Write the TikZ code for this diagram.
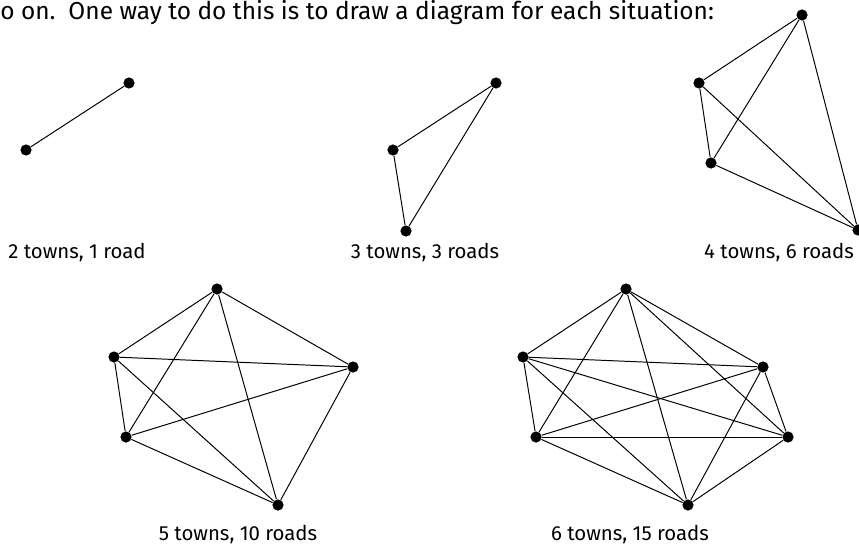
\documentclass[tikz,border=0pt]{standalone}
\usepackage{fontspec}
\setmainfont{Fira Sans}
\usepackage{tikz}
\usetikzlibrary{positioning}

\begin{document}
\begin{tikzpicture}[
  x=0.025cm, y=-0.025cm,
  town/.style={circle,fill=black,inner sep=0pt,minimum size=0.28cm},
  road/.style={line width=0.7pt,draw=black},
  caption/.style={font=\fontsize{14.5}{17}\selectfont}
]
  \useasboundingbox (0,0) rectangle (859,545);

  % lead-in text
  \node[anchor=base west,inner sep=0pt,font=\fontsize{17.4}{20}\selectfont] (intro) at (0,20)
    {o on.\ \ One way to do this is to draw a diagram for each situation:};

  % 2 towns
  \node[town] (a1) at (129,83) {};
  \node[town] (a2) at (26,150) {};
  \draw[road] (a1) -- (a2);
  \node[caption,anchor=base] (capa) at (77,258) {2 towns, 1 road};

  % 3 towns
  \node[town] (b1) at (496,83) {};
  \node[town] (b2) at (393,150) {};
  \node[town] (b3) at (406,231) {};
  \draw[road] (b1) -- (b2);
  \draw[road] (b1) -- (b3);
  \draw[road] (b2) -- (b3);
  \node[caption,anchor=base] (capb) at (425,258) {3 towns, 3 roads};

  % 4 towns
  \node[town] (c1) at (802,15) {};
  \node[town] (c2) at (699,83) {};
  \node[town] (c3) at (711,163) {};
  \node[town] (c4) at (858,230) {};
  \draw[road] (c1) -- (c2);
  \draw[road] (c1) -- (c3);
  \draw[road] (c1) -- (c4);
  \draw[road] (c2) -- (c3);
  \draw[road] (c2) -- (c4);
  \draw[road] (c3) -- (c4);
  \node[caption,anchor=base] (capc) at (779,258) {4 towns, 6 roads};

  % 5 towns
  \node[town] (d1) at (217,289) {};
  \node[town] (d2) at (114,357) {};
  \node[town] (d3) at (353,367) {};
  \node[town] (d4) at (126,437) {};
  \node[town] (d5) at (278,505) {};
  \draw[road] (d1) -- (d2);
  \draw[road] (d1) -- (d3);
  \draw[road] (d1) -- (d4);
  \draw[road] (d1) -- (d5);
  \draw[road] (d2) -- (d3);
  \draw[road] (d2) -- (d4);
  \draw[road] (d2) -- (d5);
  \draw[road] (d3) -- (d4);
  \draw[road] (d3) -- (d5);
  \draw[road] (d4) -- (d5);
  \node[caption,anchor=base] (capd) at (238,540) {5 towns, 10 roads};

  % 6 towns
  \node[town] (e1) at (626,289) {};
  \node[town] (e2) at (523,357) {};
  \node[town] (e3) at (763,367) {};
  \node[town] (e4) at (536,437) {};
  \node[town] (e5) at (788,437) {};
  \node[town] (e6) at (688,505) {};
  \draw[road] (e1) -- (e2);
  \draw[road] (e1) -- (e3);
  \draw[road] (e1) -- (e4);
  \draw[road] (e1) -- (e5);
  \draw[road] (e1) -- (e6);
  \draw[road] (e2) -- (e3);
  \draw[road] (e2) -- (e4);
  \draw[road] (e2) -- (e5);
  \draw[road] (e2) -- (e6);
  \draw[road] (e3) -- (e4);
  \draw[road] (e3) -- (e5);
  \draw[road] (e3) -- (e6);
  \draw[road] (e4) -- (e5);
  \draw[road] (e4) -- (e6);
  \draw[road] (e5) -- (e6);
  \node[caption,anchor=base] (cape) at (630,540) {6 towns, 15 roads};
\end{tikzpicture}
\end{document}
